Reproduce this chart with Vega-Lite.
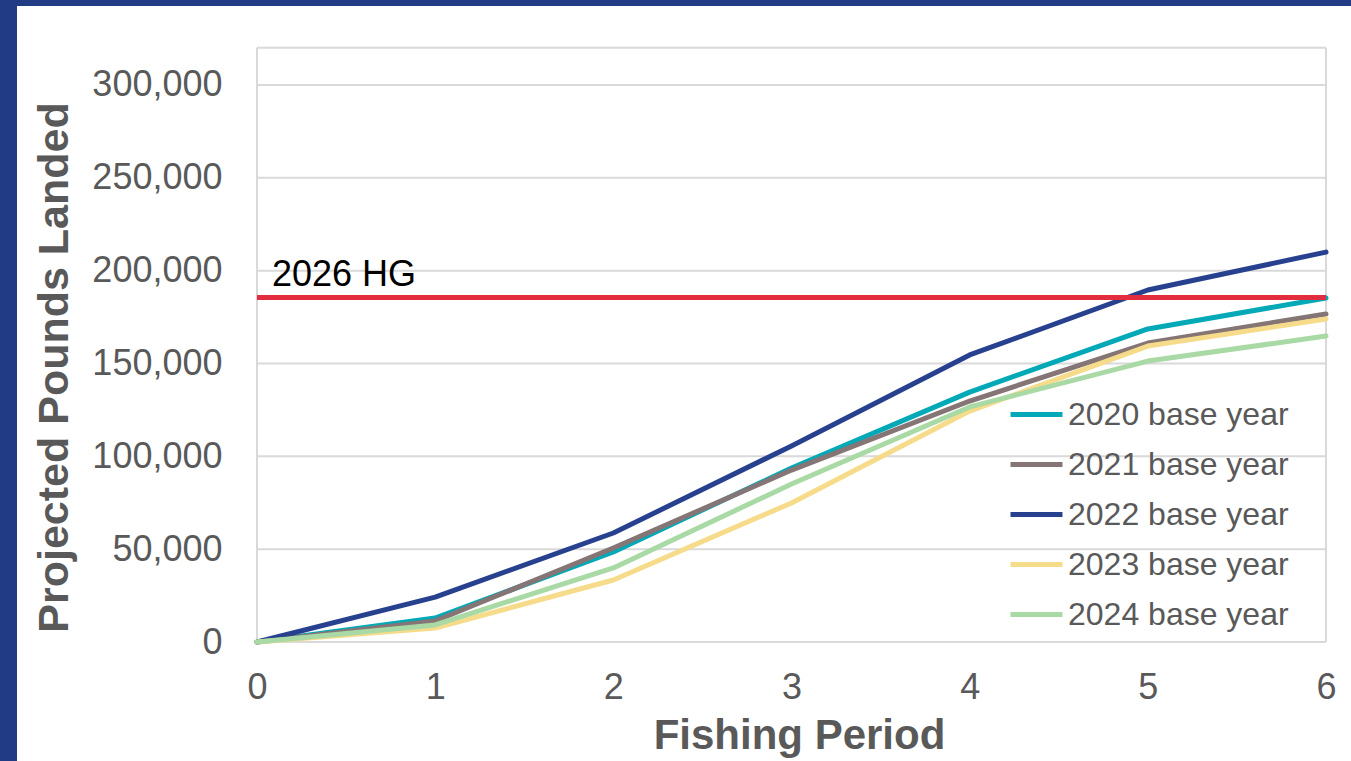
{
  "$schema": "https://vega.github.io/schema/vega-lite/v6.json",
  "autosize": "none",
  "width": 1334,
  "height": 755,
  "padding": {"left": 17, "top": 6, "right": 0, "bottom": 0},
  "background": "#213c84",
  "config": {
    "view": {"fill": "white", "stroke": null},
    "font": "Liberation Sans"
  },
  "datasets": {
    "series": [
      {"period": 0, "series": "2020 base year", "pounds": 0},
      {"period": 1, "series": "2020 base year", "pounds": 12900},
      {"period": 2, "series": "2020 base year", "pounds": 48500},
      {"period": 3, "series": "2020 base year", "pounds": 93700},
      {"period": 4, "series": "2020 base year", "pounds": 134600},
      {"period": 5, "series": "2020 base year", "pounds": 168600},
      {"period": 6, "series": "2020 base year", "pounds": 185300},
      {"period": 0, "series": "2021 base year", "pounds": 0},
      {"period": 1, "series": "2021 base year", "pounds": 11300},
      {"period": 2, "series": "2021 base year", "pounds": 50600},
      {"period": 3, "series": "2021 base year", "pounds": 92600},
      {"period": 4, "series": "2021 base year", "pounds": 129800},
      {"period": 5, "series": "2021 base year", "pounds": 161000},
      {"period": 6, "series": "2021 base year", "pounds": 176700},
      {"period": 0, "series": "2022 base year", "pounds": 0},
      {"period": 1, "series": "2022 base year", "pounds": 24200},
      {"period": 2, "series": "2022 base year", "pounds": 58700},
      {"period": 3, "series": "2022 base year", "pounds": 105600},
      {"period": 4, "series": "2022 base year", "pounds": 154600},
      {"period": 5, "series": "2022 base year", "pounds": 189600},
      {"period": 6, "series": "2022 base year", "pounds": 210000},
      {"period": 0, "series": "2023 base year", "pounds": 0},
      {"period": 1, "series": "2023 base year", "pounds": 7500},
      {"period": 2, "series": "2023 base year", "pounds": 33400},
      {"period": 3, "series": "2023 base year", "pounds": 74900},
      {"period": 4, "series": "2023 base year", "pounds": 124400},
      {"period": 5, "series": "2023 base year", "pounds": 159400},
      {"period": 6, "series": "2023 base year", "pounds": 174000},
      {"period": 0, "series": "2024 base year", "pounds": 0},
      {"period": 1, "series": "2024 base year", "pounds": 9200},
      {"period": 2, "series": "2024 base year", "pounds": 39900},
      {"period": 3, "series": "2024 base year", "pounds": 85100},
      {"period": 4, "series": "2024 base year", "pounds": 126600},
      {"period": 5, "series": "2024 base year", "pounds": 151300},
      {"period": 6, "series": "2024 base year", "pounds": 164800}
    ],
    "grid": [
      {"level": 0}, {"level": 50000}, {"level": 100000}, {"level": 150000},
      {"level": 200000}, {"level": 250000}, {"level": 300000}, {"level": 320000}
    ],
    "frame": [{"edge": 0}, {"edge": 6}],
    "hg": [{"label": "2026 HG", "value": 185500}]
  },
  "layer": [
    {
      "data": {"name": "grid"},
      "mark": {"type": "rule", "color": "#d9d9d9", "strokeWidth": 2},
      "encoding": {
        "y": {"field": "level", "type": "quantitative", "scale": {"domain": [-64093, 342549], "nice": false, "zero": false},
          "axis": {"orient": "left", "offset": -240, "values": [0, 50000, 100000, 150000, 200000, 250000, 300000], "format": ",.0f", "domain": false, "ticks": false, "grid": false, "labelFontSize": 36, "labelColor": "#595959", "labelPadding": 35, "labelFont": "Liberation Sans",
            "title": "Projected Pounds Landed", "titleFontSize": 43, "titleFontWeight": "bold", "titleColor": "#595959", "titleFont": "Liberation Sans", "titleX": -190, "titleY": 361, "titleBaseline": "alphabetic", "titleAlign": "center", "titleAngle": 270}},
        "x": {"datum": 0, "type": "quantitative", "scale": {"domain": [-1.3471, 6.1403], "nice": false, "zero": false},
          "axis": {"orient": "bottom", "offset": -119, "values": [0, 1, 2, 3, 4, 5, 6], "format": "d", "domain": false, "ticks": false, "grid": false, "labelFontSize": 36, "labelColor": "#595959", "labelPadding": 28, "labelFont": "Liberation Sans",
            "title": "Fishing Period", "titleFontSize": 42, "titleFontWeight": "bold", "titleColor": "#595959", "titleFont": "Liberation Sans", "titleX": 782, "titleY": 106, "titleBaseline": "alphabetic", "titleAlign": "center"}},
        "x2": {"datum": 6}
      }
    },
    {
      "data": {"name": "frame"},
      "mark": {"type": "rule", "color": "#d9d9d9", "strokeWidth": 2},
      "encoding": {
        "x": {"field": "edge", "type": "quantitative", "scale": {"domain": [-1.3471, 6.1403], "nice": false, "zero": false}},
        "y": {"datum": 0, "type": "quantitative", "scale": {"domain": [-64093, 342549], "nice": false, "zero": false}},
        "y2": {"datum": 320000}
      }
    },
    {
      "data": {"name": "series"},
      "mark": {"type": "line", "strokeWidth": 5, "strokeCap": "round", "strokeJoin": "round"},
      "encoding": {
        "x": {"field": "period", "type": "quantitative", "scale": {"domain": [-1.3471, 6.1403], "nice": false, "zero": false}},
        "y": {"field": "pounds", "type": "quantitative", "scale": {"domain": [-64093, 342549], "nice": false, "zero": false}},
        "color": {"field": "series", "type": "nominal",
          "scale": {"domain": ["2020 base year", "2021 base year", "2022 base year", "2023 base year", "2024 base year"], "range": ["#04a9b8", "#857575", "#27418f", "#f6dc8a", "#a9d9a4"]},
          "legend": {"orient": "none", "legendX": 991, "legendY": 380, "title": null, "symbolType": "stroke", "symbolSize": 2700, "symbolStrokeWidth": 5, "labelFontSize": 32, "labelColor": "#595959", "labelFont": "Liberation Sans", "labelLimit": 500, "rowPadding": 5, "labelOffset": 3, "symbolOffset": 0, "padding": 0}}
      }
    },
    {
      "data": {"name": "hg"},
      "mark": {"type": "rule", "color": "#e12d3e", "strokeWidth": 5},
      "encoding": {
        "y": {"field": "value", "type": "quantitative", "scale": {"domain": [-64093, 342549], "nice": false, "zero": false}},
        "x": {"datum": 0, "type": "quantitative", "scale": {"domain": [-1.3471, 6.1403], "nice": false, "zero": false}},
        "x2": {"datum": 6}
      }
    },
    {
      "data": {"name": "hg"},
      "mark": {"type": "text", "align": "left", "baseline": "alphabetic", "dx": 15, "dy": -12, "fontSize": 36, "color": "black", "font": "Liberation Sans"},
      "encoding": {
        "y": {"field": "value", "type": "quantitative", "scale": {"domain": [-64093, 342549], "nice": false, "zero": false}},
        "x": {"datum": 0, "type": "quantitative", "scale": {"domain": [-1.3471, 6.1403], "nice": false, "zero": false}},
        "text": {"field": "label"}
      }
    }
  ]
}
